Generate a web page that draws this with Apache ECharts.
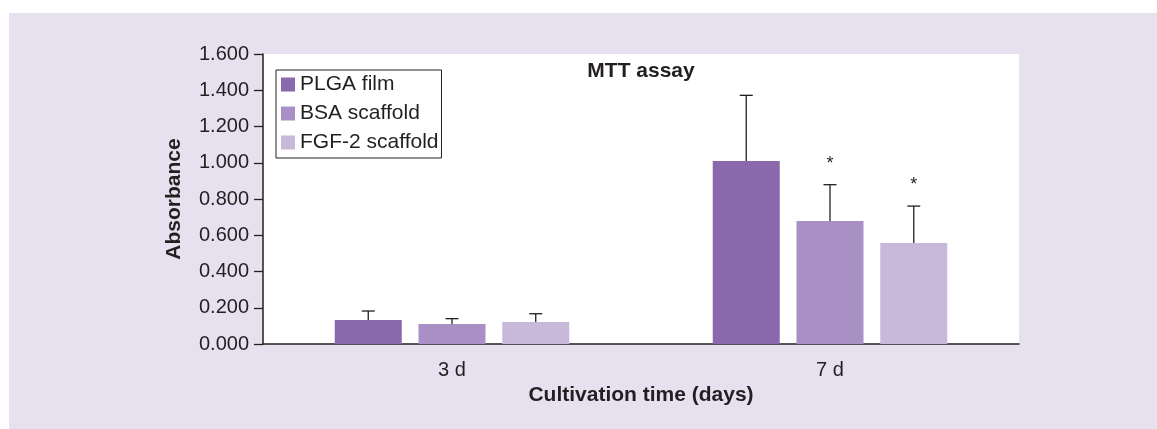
<!DOCTYPE html>
<html>
<head>
<meta charset="utf-8">
<script src="https://cdn.jsdelivr.net/npm/echarts@6/dist/echarts.min.js"></script>
<style>
html,body{margin:0;padding:0;background:#ffffff;}
#chart{width:1157px;height:429px;}
</style>
</head>
<body>
<div id="chart"></div>
<script>
// ---- data ----
var categories = ['3 d', '7 d'];
var seriesNames = ['PLGA film', 'BSA scaffold', 'FGF-2 scaffold'];
var plgaValues = [0.132, 1.010];
var bsaValues = [0.110, 0.679];
var fgfValues = [0.121, 0.557];
var plgaErrors = [0.050, 0.362];
var bsaErrors = [0.030, 0.200];
var fgfErrors = [0.046, 0.204];
var plgaSig = ['', ''];
var bsaSig = ['', '*'];
var fgfSig = ['', '*'];
var yTicks = ['0.000', '0.200', '0.400', '0.600', '0.800', '1.000', '1.200', '1.400', '1.600'];

// ---- style ----
var colors = ['#8968AB', '#A88FC4', '#C8B9DB'];
var ink = '#231F20';
var font = '"Liberation Sans", Arial, Helvetica, sans-serif';
var BAR_W = 67;
var BAR_GAP = 0.25;

var chart = echarts.init(document.getElementById('chart'), null, {renderer: 'canvas'});

var valuesAll = [plgaValues, bsaValues, fgfValues];
var errorsAll = [plgaErrors, bsaErrors, fgfErrors];
var sigAll = [plgaSig, bsaSig, fgfSig];

var series = [];
seriesNames.forEach(function (name, k) {
  series.push({
    name: name,
    type: 'bar',
    data: valuesAll[k],
    barWidth: BAR_W,
    barGap: (BAR_GAP * 100) + '%',
    itemStyle: {color: colors[k]},
    z: 2
  });
});
seriesNames.forEach(function (name, k) {
  var d = valuesAll[k].map(function (v, i) { return [i, v, errorsAll[k][i]]; });
  series.push({
    type: 'custom',
    name: name + ' err',
    data: d,
    z: 3,
    silent: true,
    renderItem: function (params, api) {
      var idx = api.value(0);
      var v = api.value(1);
      var e = api.value(2);
      var off = (k - 1) * BAR_W * (1 + BAR_GAP);
      var p0 = api.coord([idx, v]);
      var p1 = api.coord([idx, v + e]);
      var x = p0[0] + off;
      var children = [
        {type: 'line', shape: {x1: x, y1: p0[1], x2: x, y2: p1[1]}, style: {stroke: ink, lineWidth: 1.3}},
        {type: 'line', shape: {x1: x - 6.5, y1: p1[1], x2: x + 6.5, y2: p1[1]}, style: {stroke: ink, lineWidth: 1.3}}
      ];
      var s = sigAll[k][params.dataIndex];
      if (s) {
        children.push({type: 'text', style: {text: s, x: x, y: p1[1] - 12, fill: ink,
          font: '18px ' + font, textAlign: 'center', textVerticalAlign: 'bottom'}});
      }
      return {type: 'group', children: children};
    }
  });
});

var option = {
  animation: false,
  backgroundColor: 'transparent',
  graphic: [{
    type: 'rect', left: 9, top: 13, z: -10,
    shape: {width: 1148, height: 416},
    style: {fill: '#E6E0EF'}
  }],
  title: {
    text: 'MTT assay',
    left: 641, top: 61, textAlign: 'center', padding: 0,
    textStyle: {fontFamily: font, fontSize: 21, fontWeight: 'bold', color: ink}
  },
  legend: {
    data: seriesNames,
    orient: 'vertical',
    left: 276, top: 70,
    padding: [4, 3, 5, 5],
    itemGap: 8,
    itemWidth: 14, itemHeight: 14,
    icon: 'rect',
    backgroundColor: '#ffffff',
    borderColor: ink, borderWidth: 1,
    textStyle: {fontFamily: font, fontSize: 21, color: ink},
    selectedMode: false
  },
  grid: {
    left: 263, right: 138, top: 54, bottom: 85,
    show: true, backgroundColor: '#ffffff', borderWidth: 0
  },
  xAxis: {
    type: 'category',
    data: categories,
    name: 'Cultivation time (days)',
    nameLocation: 'middle',
    nameGap: 38,
    nameTextStyle: {fontFamily: font, fontSize: 21, fontWeight: 'bold', color: ink},
    axisLine: {lineStyle: {color: ink, width: 1.5}},
    axisTick: {alignWithLabel: true, length: 11, lineStyle: {color: ink, width: 1.5}},
    axisLabel: {fontFamily: font, fontSize: 20, color: ink, margin: 16}
  },
  yAxis: {
    type: 'value',
    min: 0, max: 1.6, interval: 0.2,
    name: 'Absorbance',
    nameLocation: 'middle',
    nameGap: 78,
    nameTextStyle: {fontFamily: font, fontSize: 21, fontWeight: 'bold', color: ink},
    axisLine: {show: true, lineStyle: {color: ink, width: 1.5}},
    axisTick: {show: true, length: 9, lineStyle: {color: ink, width: 1.3}},
    splitLine: {show: false},
    axisLabel: {
      fontFamily: font, fontSize: 20, color: ink, margin: 14,
      formatter: function (v) { return yTicks[Math.round(v / 0.2)]; }
    }
  },
  series: series
};
chart.setOption(option);
</script>
</body>
</html>
